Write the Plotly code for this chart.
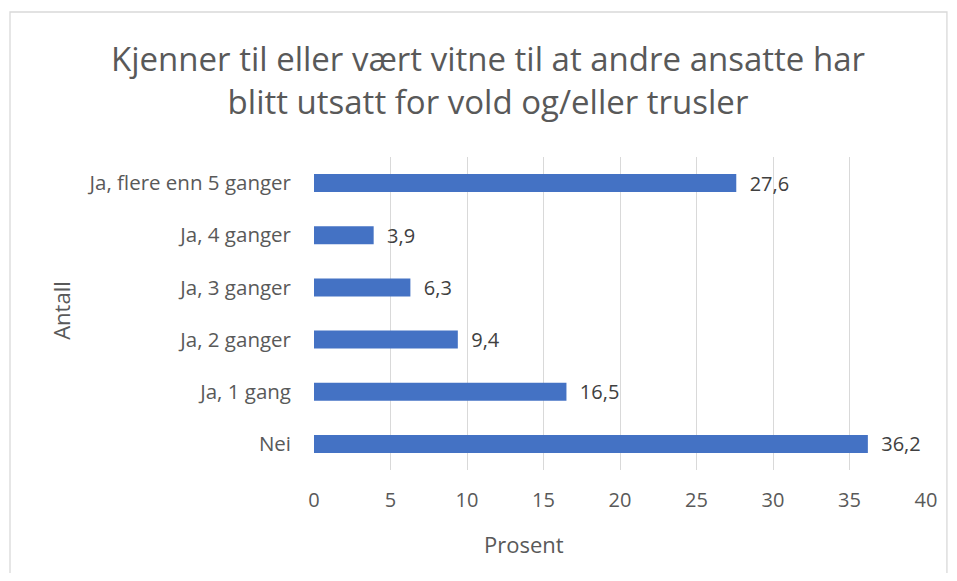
import plotly.graph_objects as go

categories = ["Nei", "Ja, 1 gang", "Ja, 2 ganger", "Ja, 3 ganger", "Ja, 4 ganger", "Ja, flere enn 5 ganger"]
values = [36.2, 16.5, 9.4, 6.3, 3.9, 27.6]
x_ticks = [0, 5, 10, 15, 20, 25, 30, 35, 40]

title_text = "Kjenner til eller vært vitne til at andre ansatte har<br>blitt utsatt for vold og/eller trusler"
x_title = "Prosent"
y_title = "Antall"

FONT = "Open Sans"
TXT = "#595959"
OFF = 8  # page body margin offset

W, H = 957 - 2 * OFF, 581 - 2 * OFF
PL, PR, PT, PB = 314 - OFF, 928 - OFF, 157 - OFF, 470 - OFF  # plot area in figure px
PW, PH = PR - PL, PB - PT


def px_x(px):
    return (px - OFF - PL) / PW


def px_y(py):
    return (PB - (py - OFF)) / PH


fig = go.Figure(go.Bar(
    x=values, y=categories, orientation="h",
    marker=dict(color="#4472C4", line=dict(width=0)),
    text=[f"{v:.1f}".replace(".", ",") for v in values],
    texttemplate="  %{text}",
    textposition="outside", cliponaxis=False, constraintext="none",
    textfont=dict(family=FONT, size=20, color="#404040"),
))

fig.update_layout(
    width=W, height=H,
    margin=dict(l=PL, r=W - PR, t=PT, b=H - PB),
    paper_bgcolor="white", plot_bgcolor="white",
    bargap=0.655,
    showlegend=False,
    font=dict(family=FONT, color=TXT),
    title=dict(text=title_text, x=(488 - OFF) / W, xanchor="center", y=1 - (71 - OFF) / H, yanchor="middle",
               font=dict(family=FONT, size=33, color=TXT)),
)
fig.update_xaxes(range=[0, 40], tickvals=x_ticks, showgrid=True, gridcolor="#D9D9D9", gridwidth=1.3,
                 zeroline=False, showline=False, tickfont=dict(size=20, color=TXT),
                 ticklabelstandoff=16, fixedrange=True)
fig.update_yaxes(showgrid=False, showline=False, tickfont=dict(size=20.5, color=TXT),
                 ticklabelstandoff=22, fixedrange=True)

fig.add_annotation(text=x_title, xref="paper", yref="paper", x=px_x(525), y=px_y(544),
                   showarrow=False, font=dict(family=FONT, size=22, color=TXT), yanchor="middle")
fig.add_annotation(text=y_title, xref="paper", yref="paper", x=px_x(60), y=px_y(310),
                   showarrow=False, textangle=-90, font=dict(family=FONT, size=22, color=TXT),
                   xanchor="center", yanchor="middle")
fig.add_shape(type="rect", xref="paper", yref="paper",
              x0=px_x(9), x1=px_x(949), y0=px_y(620), y1=px_y(12),
              line=dict(color="#D9D9D9", width=1.3), fillcolor="rgba(0,0,0,0)", layer="below")

fig.write_html("out.html")
